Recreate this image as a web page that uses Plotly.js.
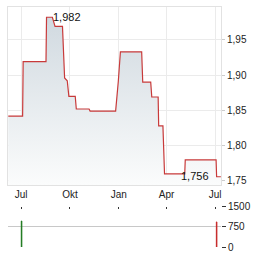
<!DOCTYPE html>
<html>
<head>
<meta charset="utf-8">
<script src="https://cdn.plot.ly/plotly-3.0.1.min.js"></script>
<style>html,body{margin:0;padding:0;background:#fff;}#chart{width:264px;height:255px;}</style>
</head>
<body>
<div id="chart"></div>
<script>
// Price series (corner points of the step chart)
const priceDates = [
  '2024-06-07','2024-07-04','2024-07-05','2024-08-17','2024-08-18','2024-08-29',
  '2024-09-03','2024-09-17','2024-09-21','2024-09-26','2024-09-29','2024-10-11',
  '2024-10-13','2024-11-06','2024-11-08','2024-12-26','2024-12-31','2025-01-04',
  '2025-02-13','2025-02-15','2025-03-02','2025-03-04','2025-03-16','2025-03-17',
  '2025-03-25','2025-03-28','2025-05-05','2025-05-06','2025-07-03','2025-07-04',
  '2025-07-12'
];
const prices = [
  1.842,1.842,1.919,1.919,1.982,1.982,
  1.969,1.969,1.896,1.892,1.870,1.870,
  1.852,1.852,1.849,1.849,1.891,1.933,
  1.933,1.890,1.890,1.869,1.869,1.828,
  1.828,1.760,1.760,1.780,1.780,1.756,
  1.756
];
// Volume series
const volDates = ['2024-07-02','2025-07-04'];
const volumes = [975, 940];
const volColors = ['#1f7a1f','#c62828'];
// Ticks
const monthTicks = ['2024-07-01','2024-10-01','2025-01-01','2025-04-01','2025-07-01'];
const monthLabels = ['Jul','Okt','Jan','Apr','Jul'];
const priceTicks = [1.75,1.80,1.85,1.90,1.95];
const volTicks = [0,750,1500];
const volLabels = ['0','750','1500'];
// Labels
const maxLabel = {date:'2024-08-18', value:1.982, text:'1,982'};
const lastLabel = {date:'2025-07-12', value:1.756, text:'1,756'};

const font = {family:'Liberation Sans, Arial, sans-serif', size:10, color:'#222'};

const traces = [
  {
    x: priceDates, y: prices, type:'scatter', mode:'lines',
    line:{color:'#c83a3a', width:1.2, shape:'linear'},
    fill:'tozeroy',
    fillgradient:{type:'vertical', start:1.744, stop:1.99,
      colorscale:[[0,'#fbfcfc'],[1,'#cfd8df']]},
    hoverinfo:'skip', xaxis:'x', yaxis:'y'
  },
  {
    x: volDates, y: volumes, type:'bar',
    width: 86400000,
    marker:{color:volColors, line:{color:volColors, width:1}},
    hoverinfo:'skip', xaxis:'x2', yaxis:'y2'
  }
];

const xr = ['2024-06-06 12:00','2025-07-12 06:00'];

const layout = {
  width:264, height:255,
  margin:{l:8, r:43, t:7, b:8},
  paper_bgcolor:'#fff', plot_bgcolor:'#fff',
  showlegend:false,
  separators:',.',
  font: font,
  xaxis:{
    domain:[0,1], range:xr, type:'date',
    tickvals:monthTicks, ticktext:monthLabels,
    showgrid:true, gridcolor:'#ebebeb', gridwidth:1,
    showline:true, linecolor:'#e2e2e2', linewidth:1, mirror:true,
    ticks:'', tickfont:font, zeroline:false, anchor:'y'
  },
  yaxis:{
    domain:[0.2583,1], range:[1.7443,1.9965], side:'right',
    tickvals:priceTicks, tickformat:'.2f',
    showgrid:true, gridcolor:'#ebebeb', gridwidth:1,
    showline:true, linecolor:'#e2e2e2', linewidth:1, mirror:true,
    ticks:'outside', ticklen:3, tickcolor:'#cccccc',
    tickfont:font, zeroline:false, anchor:'x'
  },
  xaxis2:{
    domain:[0,1], range:xr, type:'date', matches:'x',
    tickvals:monthTicks, showticklabels:false,
    showgrid:false, showline:false, zeroline:false,
    side:'top', ticks:'inside', ticklen:2, tickcolor:'#333', anchor:'y2'
  },
  yaxis2:{
    domain:[0,0.1667], range:[0,1500], side:'right',
    tickvals:volTicks, ticktext:volLabels,
    showgrid:true, gridcolor:'#c8c8c8', gridwidth:1,
    showline:false, zeroline:false,
    ticks:'outside', ticklen:4, tickcolor:'#333',
    tickfont:font, anchor:'x2'
  },
  annotations:[
    {x:maxLabel.date, y:maxLabel.value, xref:'x', yref:'y', text:maxLabel.text,
     showarrow:false, xanchor:'left', yanchor:'middle', xshift:4, yshift:0,
     font:{family:'Liberation Sans, Arial, sans-serif', size:11, color:'#111'}},
    {x:lastLabel.date, y:lastLabel.value, xref:'x', yref:'y', text:lastLabel.text,
     showarrow:false, xanchor:'right', yanchor:'middle', xshift:-10, yshift:1,
     font:{family:'Liberation Sans, Arial, sans-serif', size:11, color:'#111'}}
  ]
};

Plotly.newPlot('chart', traces, layout, {displayModeBar:false, staticPlot:true});
</script>
</body>
</html>
